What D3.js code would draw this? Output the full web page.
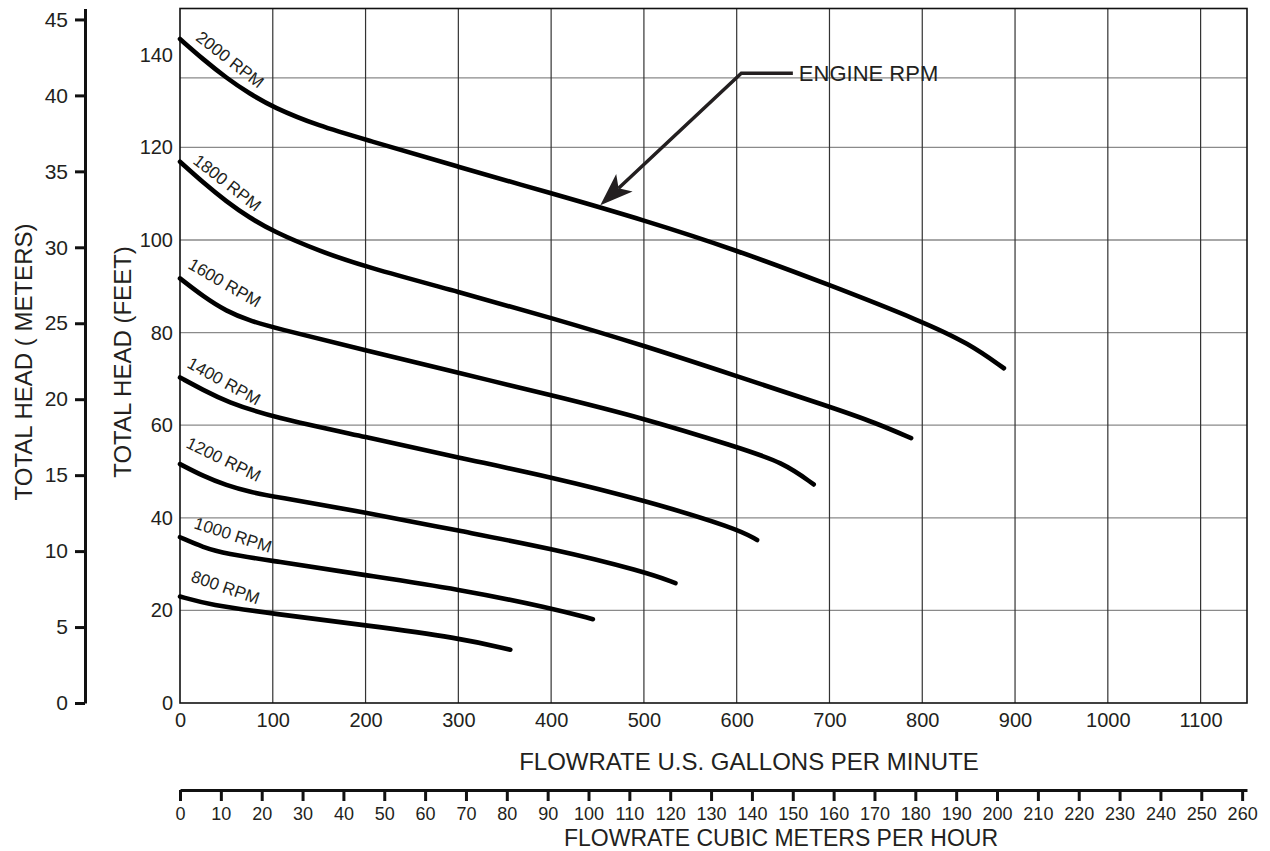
<!DOCTYPE html>
<html>
<head>
<meta charset="utf-8">
<script src="https://cdn.jsdelivr.net/npm/d3@7"></script>
<style>
  body { margin: 0; background: #fff; }
  svg text { fill: #231f20; font-family: "Liberation Sans", Arial, sans-serif; }
</style>
</head>
<body>
<div id="chart"></div>
<script>

// pump curves: [flow in US gpm, total head in feet]
const curve2000 = [[0,143.4],[25,139.0],[50,135.0],[75,131.6],[100,128.7],[150,124.6],[200,121.7],[300,115.8],[400,110.1],[500,104.3],[600,97.8],[700,90.3],[800,82.4],[850,77.7],[888,72.3]]
const curve1800 = [[0,116.9],[25,112.4],[50,108.3],[75,104.8],[100,101.9],[150,97.6],[200,94.2],[300,88.8],[400,83.2],[500,77.2],[600,70.6],[700,64.0],[750,60.5],[788,57.2]]
const curve1600 = [[0,91.7],[25,87.8],[50,84.6],[75,82.6],[100,81.1],[200,76.2],[300,71.3],[400,66.5],[500,61.5],[600,55.3],[650,52.0],[683,47.2]]
const curve1400 = [[0,70.3],[25,67.6],[50,65.1],[100,61.7],[200,57.5],[300,53.0],[400,48.8],[500,43.8],[600,37.7],[622,35.2]]
const curve1200 = [[0,51.6],[25,49.0],[50,47.0],[75,45.6],[100,44.6],[200,41.2],[300,37.2],[400,33.4],[500,28.4],[534,25.9]]
const curve1000 = [[0,35.8],[25,33.6],[50,32.2],[100,30.7],[200,27.6],[300,24.6],[400,20.5],[445,18.1]]
const curve800  = [[0,23.0],[32,21.2],[100,19.3],[200,16.8],[300,14.1],[356,11.5]]

const rpmNames  = ['2000 RPM','1800 RPM','1600 RPM','1400 RPM','1200 RPM','1000 RPM','800 RPM']
const rpmCurves = [curve2000, curve1800, curve1600, curve1400, curve1200, curve1000, curve800]
// where each curve name sits: [gpm, feet, slope of the text in degrees]
const rpmLabelAt = [[16,143.3,38],[13,116.7,38],[7.5,94.0,30],[6.5,72.6,29],[5.4,55.3,26],[14,37.8,18],[10.8,26.3,19]]

const gpmTicks   = [0,100,200,300,400,500,600,700,800,900,1000,1100]
const feetTicks  = [0,20,40,60,80,100,120,140]
const feetGrid   = [20,40,60,80,100,120,135]
const meterTicks = [0,5,10,15,20,25,30,35,40,45]
const m3hTicks   = [0,10,20,30,40,50,60,70,80,90,100,110,120,130,140,150,160,170,180,190,200,210,220,230,240,250,260]

// ENGINE RPM call-out: arrow tip on the 2000 curve, elbow, text
const engineTip = [453,107.5]
const engineElbow = [605,136]
const engineText = [667,136]

const FT_PER_M = 3.2808
const GPM_PER_M3H = 4.4029

const W = 1270, H = 851

const svg = d3.select('#chart').append('svg')
    .attr('width', W)
    .attr('height', H)

const x = d3.scaleLinear().domain([0, 1150]).range([180, 1247])
const y = d3.scaleLinear().domain([0, 150]).range([703, 8.5])
const yM = d3.scaleLinear().domain([0, 150 / FT_PER_M]).range(y.range())
const xM = d3.scaleLinear().domain([0, 1150 / GPM_PER_M3H]).range(x.range())

// grid
svg.append('g')
    .selectAll('line')
    .data(feetGrid)
    .join('line')
    .attr('x1', x(0)).attr('x2', x(1150))
    .attr('y1', d => y(d)).attr('y2', d => y(d))
    .attr('stroke', '#8a8a8a')
    .attr('stroke-width', 1.3)

svg.append('g')
    .selectAll('line')
    .data(gpmTicks.filter(d => d > 0))
    .join('line')
    .attr('x1', d => x(d)).attr('x2', d => x(d))
    .attr('y1', y(0)).attr('y2', y(150))
    .attr('stroke', '#333')
    .attr('stroke-width', 1.2)

svg.append('rect')
    .attr('x', x(0)).attr('y', y(150))
    .attr('width', x(1150) - x(0))
    .attr('height', y(0) - y(150))
    .attr('fill', 'none')
    .attr('stroke', '#111')
    .attr('stroke-width', 1.6)

// curves
const line = d3.line()
    .x(d => x(d[0]))
    .y(d => y(d[1]))
    .curve(d3.curveBasis)

svg.append('g')
    .selectAll('path')
    .data(rpmCurves)
    .join('path')
    .attr('d', line)
    .attr('fill', 'none')
    .attr('stroke', '#000')
    .attr('stroke-width', 4.6)
    .attr('stroke-linecap', 'round')
    .attr('stroke-linejoin', 'round')

svg.append('g')
    .selectAll('text')
    .data(rpmNames)
    .join('text')
    .attr('transform', (d, i) => `translate(${x(rpmLabelAt[i][0])},${y(rpmLabelAt[i][1])}) rotate(${rpmLabelAt[i][2]})`)
    .attr('font-size', 17)
    .text(d => d)

// axes
function styleAxis(g, size) {
    g.attr('font-size', size)
     .attr('font-family', '"Liberation Sans", Arial, sans-serif')
    g.selectAll('text').attr('fill', '#231f20')
}

svg.append('g')
    .attr('transform', `translate(${x(0)},0)`)
    .call(d3.axisLeft(y).tickValues(feetTicks).tickSize(0).tickPadding(7))
    .call(g => g.select('.domain').remove())
    .call(g => styleAxis(g, 20))

svg.append('g')
    .attr('transform', 'translate(85,0)')
    .call(d3.axisLeft(yM).tickValues(meterTicks).tickSize(10).tickPadding(7).tickSizeOuter(0))
    .call(g => g.selectAll('.domain, .tick line').attr('stroke', '#111').attr('stroke-width', 3))
    .call(g => styleAxis(g, 21))

svg.append('g')
    .attr('transform', `translate(0,${y(0)})`)
    .call(d3.axisBottom(x).tickValues(gpmTicks).tickFormat(d3.format('d')).tickSize(0).tickPadding(10))
    .call(g => g.select('.domain').remove())
    .call(g => styleAxis(g, 20))

svg.append('g')
    .attr('transform', 'translate(0,790)')
    .call(d3.axisBottom(xM).tickValues(m3hTicks).tickFormat(d3.format('d')).tickSize(11).tickPadding(6).tickSizeOuter(0))
    .call(g => g.selectAll('.domain, .tick line').attr('stroke', '#111').attr('stroke-width', 3))
    .call(g => styleAxis(g, 18))

// axis titles
svg.append('text')
    .attr('transform', 'translate(32,362) rotate(-90)')
    .attr('text-anchor', 'middle')
    .attr('font-size', 24)
    .text('TOTAL HEAD ( METERS)')

svg.append('text')
    .attr('transform', 'translate(131,362) rotate(-90)')
    .attr('text-anchor', 'middle')
    .attr('font-size', 24)
    .text('TOTAL HEAD (FEET)')

svg.append('text')
    .attr('x', 749).attr('y', 770)
    .attr('text-anchor', 'middle')
    .attr('font-size', 24)
    .text('FLOWRATE U.S. GALLONS PER MINUTE')

svg.append('text')
    .attr('x', 781).attr('y', 846)
    .attr('text-anchor', 'middle')
    .attr('font-size', 23)
    .text('FLOWRATE CUBIC METERS PER HOUR')

// ENGINE RPM call-out
const tip = [x(engineTip[0]), y(engineTip[1])]
const elbow = [x(engineElbow[0]), y(engineElbow[1])]
const len = Math.hypot(tip[0] - elbow[0], tip[1] - elbow[1])
const ux = (tip[0] - elbow[0]) / len, uy = (tip[1] - elbow[1]) / len
const headLen = 33, headHalf = 12, notch = 25

svg.append('path')
    .attr('d', d3.line()([[x(engineText[0]) - 6, elbow[1]], elbow, [tip[0] - ux * notch, tip[1] - uy * notch]]))
    .attr('fill', 'none')
    .attr('stroke', '#231f20')
    .attr('stroke-width', 3.5)

svg.append('path')
    .attr('d', d3.line()([
        tip,
        [tip[0] - ux * headLen - uy * headHalf, tip[1] - uy * headLen + ux * headHalf],
        [tip[0] - ux * notch, tip[1] - uy * notch],
        [tip[0] - ux * headLen + uy * headHalf, tip[1] - uy * headLen - ux * headHalf]
    ]) + 'Z')
    .attr('fill', '#231f20')

svg.append('text')
    .attr('x', x(engineText[0]))
    .attr('y', y(engineText[1]) + 8)
    .attr('font-size', 22)
    .text('ENGINE RPM')

</script>
</body>
</html>
